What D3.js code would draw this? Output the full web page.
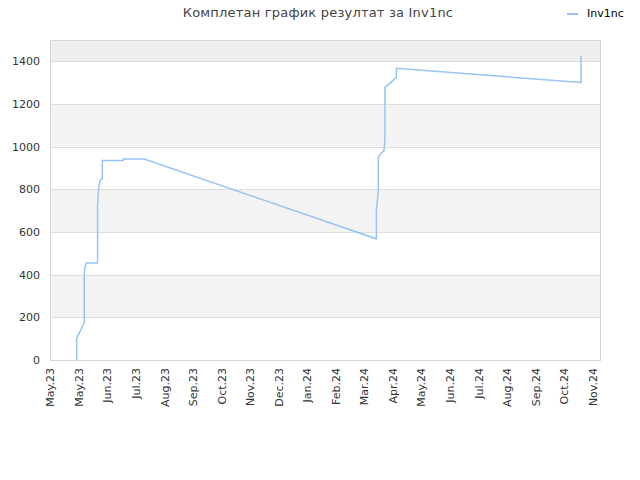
<!DOCTYPE html>
<html>
<head>
<meta charset="utf-8">
<script src="https://cdn.jsdelivr.net/npm/d3@7"></script>
<style>
  html, body { margin: 0; padding: 0; background: #fff; }
  svg { display: block; font-family: "DejaVu Sans", sans-serif; }
</style>
</head>
<body>
<svg id="chart" width="640" height="480"></svg>
<script>
// ---- data ----
const titleText = "Комплетан график резултат за Inv1nc";
const seriesName = "Inv1nc";
const dates = [
  "2023-05-29","2023-05-29","2023-06-06","2023-06-06","2023-06-07","2023-06-08",
  "2023-06-20","2023-06-20","2023-06-21","2023-06-22","2023-06-23","2023-06-25",
  "2023-06-25","2023-07-17","2023-07-17","2023-08-08","2024-04-08","2024-04-08",
  "2024-04-10","2024-04-10","2024-04-11","2024-04-13","2024-04-16","2024-04-17",
  "2024-04-17","2024-04-29","2024-04-29","2024-11-09","2024-11-09"
];
const values = [
  0,101,175,405,439,455,
  455,724,795,829,845,850,
  935,935,942,942,568,701,
  795,942,958,969,982,1036,
  1278,1324,1367,1301,1426
];
const xTickDates = [
  "2023-05-01","2023-05-31","2023-06-30","2023-07-30","2023-08-29","2023-09-28",
  "2023-10-28","2023-11-27","2023-12-27","2024-01-26","2024-02-25","2024-03-26",
  "2024-04-25","2024-05-25","2024-06-24","2024-07-24","2024-08-23","2024-09-22",
  "2024-10-22","2024-11-21"
];
const xTickLabels = [
  "May.23","May.23","Jun.23","Jul.23","Aug.23","Sep.23","Oct.23","Nov.23","Dec.23",
  "Jan.24","Feb.24","Mar.24","Apr.24","May.24","Jun.24","Jul.24","Aug.24","Sep.24",
  "Oct.24","Nov.24"
];
const yTicks = [0,200,400,600,800,1000,1200,1400];
const xDomain = ["2023-05-01","2024-11-29"];
const yDomain = [0,1500];

// ---- chart ----
const parse = d3.utcParse("%Y-%m-%d");
const svg = d3.select("#chart");
const L = 50, R = 600, T = 40, B = 360;

const x = d3.scaleUtc().domain(xDomain.map(parse)).range([L, R]);
const y = d3.scaleLinear().domain(yDomain).range([B, T]);

// bands
const bandEdges = yTicks.concat([yDomain[1]]);
for (let i = 0; i < bandEdges.length - 1; i++) {
  const top = bandEdges[i + 1] === yDomain[1];
  svg.append("rect")
    .attr("x", L).attr("width", R - L)
    .attr("y", y(bandEdges[i + 1])).attr("height", y(bandEdges[i]) - y(bandEdges[i + 1]))
    .attr("fill", top ? "#eeeeee" : (i % 2 === 1 ? "#f3f3f3" : "#ffffff"));
}
// grid lines
svg.append("g").selectAll("line").data(yTicks.slice(1)).join("line")
  .attr("x1", L).attr("x2", R)
  .attr("y1", d => Math.round(y(d)) + 0.5).attr("y2", d => Math.round(y(d)) + 0.5)
  .attr("stroke", "#dddddd").attr("stroke-width", 1);

// frame
svg.append("rect").attr("x", L + 0.5).attr("y", T + 0.5)
  .attr("width", R - L).attr("height", B - T)
  .attr("fill", "none").attr("stroke", "#d6d6d6").attr("stroke-width", 1);

// y axis labels
const yAxis = d3.axisLeft(y).tickValues(yTicks).tickFormat(d3.format("d"))
  .tickSize(0).tickPadding(10);
const gy = svg.append("g").attr("transform", `translate(${L},0)`).call(yAxis);
gy.select(".domain").remove();
gy.selectAll("text").attr("font-size", 11).attr("fill", "#333")
  .attr("font-family", "DejaVu Sans, sans-serif");

// x axis labels
const xAxis = d3.axisBottom(x).tickValues(xTickDates.map(parse))
  .tickFormat((d, i) => xTickLabels[i]).tickSize(0);
const gx = svg.append("g").attr("transform", `translate(0,${B})`).call(xAxis);
gx.select(".domain").remove();
gx.selectAll("text")
  .attr("font-size", 11).attr("fill", "#333")
  .attr("font-family", "DejaVu Sans, sans-serif")
  .attr("text-anchor", "end")
  .attr("transform", "rotate(-90)")
  .attr("x", -8).attr("y", 0).attr("dy", "0.35em");

// line
const pts = dates.map((d, i) => ({ date: parse(d), value: values[i] }));
const line = d3.line().x(d => x(d.date)).y(d => y(d.value));
svg.append("path").datum(pts)
  .attr("d", line).attr("fill", "none")
  .attr("stroke", "#95c5f4").attr("stroke-width", 1.5)
  .attr("stroke-linejoin", "miter");

// title
svg.append("text").attr("x", 318).attr("y", 17)
  .attr("text-anchor", "middle").attr("font-size", 13).attr("fill", "#444")
  .attr("letter-spacing", "0.2")
  .text(titleText);

// legend
svg.append("line").attr("x1", 567).attr("x2", 578).attr("y1", 14).attr("y2", 14)
  .attr("stroke", "#95c5f4").attr("stroke-width", 2);
svg.append("text").attr("x", 587).attr("y", 17)
  .attr("font-size", 11).attr("fill", "#000").text(seriesName);
</script>
</body>
</html>
